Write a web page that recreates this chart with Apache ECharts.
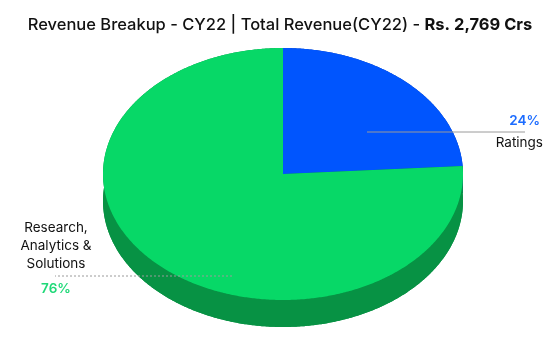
<!DOCTYPE html>
<html><head><meta charset="utf-8">
<script src="https://cdn.jsdelivr.net/npm/echarts@6/dist/echarts.min.js"></script>
<style>html,body{margin:0;padding:0;background:#fff}#c{width:560px;height:346px}</style>
</head><body><div id="c"></div>
<script>
const titleMain = 'Revenue Breakup - CY22 | Total Revenue(CY22) - ';
const titleBold = 'Rs. 2,769 Crs';
const categories = ['Ratings', 'Research, Analytics & Solutions'];
const labelNames = ['Ratings', 'Research,\nAnalytics &\nSolutions'];
const shares = [24, 76];

const topColors = ['#0055fe', '#07d867'];
const sideColors = ['#0039b0', '#079244'];
const pctColors = ['#1c6cff', '#1fd978'];
const FONT = 'Inter, "Noto Sans", sans-serif';
const geo = { cx: 283, cy: 174, rx: 180, ry: 126, depth: 27 };

const total = shares.reduce((a, b) => a + b, 0);
function angles(i) {
  let s = 0;
  for (let k = 0; k < i; k++) s += shares[k];
  return [s / total * Math.PI * 2, (s + shares[i]) / total * Math.PI * 2];
}
function pt(t, dy) {
  return [geo.cx + geo.rx * Math.sin(t), geo.cy - geo.ry * Math.cos(t) + (dy || 0)];
}
function arc(a0, a1, dy) {
  const n = Math.max(2, Math.ceil((a1 - a0) / (Math.PI / 360)));
  const p = [];
  for (let k = 0; k <= n; k++) p.push(pt(a0 + (a1 - a0) * k / n, dy));
  return p;
}
const labelLayout = [
  { ax: 367, ay: 132, bx: 525, dash: null },
  { ax: 232, ay: 276, bx: 55, dash: [2, 2] }
];

const chart = echarts.init(document.getElementById('c'), null, { renderer: 'canvas' });
chart.setOption({
  animation: false,
  title: {
    text: '{a|' + titleMain + '}{b|' + titleBold + '}',
    left: 'center', top: 12,
    textStyle: { rich: {
      a: { fontFamily: FONT, fontSize: 16.5, fontWeight: 500, color: '#111' },
      b: { fontFamily: FONT, fontSize: 16.5, fontWeight: 700, color: '#111' }
    } }
  },
  series: [
    {
      type: 'custom', coordinateSystem: 'none', z: 1, silent: true,
      data: shares.map((v, i) => [i, v]),
      renderItem: function (params, api) {
        const i = params.dataIndex;
        const [a0, a1] = angles(i);
        const d = geo.depth;
        const c0 = [geo.cx, geo.cy], c1 = [geo.cx, geo.cy + d];
        const topArc = arc(a0, a1, 0), botArc = arc(a0, a1, d);
        const fill = { fill: sideColors[i] };
        return {
          type: 'group', children: [
            { type: 'polygon', shape: { points: [c1].concat(botArc) }, style: fill },
            { type: 'polygon', shape: { points: topArc.concat(botArc.slice().reverse()) }, style: fill },
            { type: 'polygon', shape: { points: [c0, pt(a0), pt(a0, d), c1] }, style: fill },
            { type: 'polygon', shape: { points: [c0, pt(a1), pt(a1, d), c1] }, style: fill }
          ]
        };
      }
    },
    {
      type: 'custom', coordinateSystem: 'none', z: 2, silent: true,
      data: shares.map((v, i) => [i, v]),
      renderItem: function (params, api) {
        const i = params.dataIndex;
        const [a0, a1] = angles(i);
        const pct = Math.round(api.value(1) / total * 100) + '%';
        const L = labelLayout[i];
        const children = [
          { type: 'polygon', shape: { points: [[geo.cx, geo.cy]].concat(arc(a0, a1, 0)) }, style: { fill: topColors[i] } },
          { type: 'line', z2: 10, shape: { x1: L.ax, y1: L.ay, x2: L.bx, y2: L.ay },
            style: { stroke: '#9a9a9a', lineWidth: 1, lineDash: L.dash } }
        ];
        if (i === 0) {
          children.push({ type: 'text', z2: 10, style: { text: pct, x: 540, y: L.ay - 11, align: 'right', verticalAlign: 'middle',
            fill: pctColors[i], fontFamily: FONT, fontSize: 13.5, fontWeight: 600 } });
          children.push({ type: 'text', z2: 10, style: { text: labelNames[i], x: 543, y: L.ay + 11, align: 'right', verticalAlign: 'middle',
            fill: '#111', fontFamily: FONT, fontSize: 13.5, fontWeight: 400 } });
        } else {
          children.push({ type: 'text', z2: 10, style: { text: labelNames[i], x: 56, y: L.ay - 30, align: 'center', verticalAlign: 'middle',
            fill: '#111', fontFamily: FONT, fontSize: 13.5, fontWeight: 400, lineHeight: 18 } });
          children.push({ type: 'text', z2: 10, style: { text: pct, x: 56, y: L.ay + 13, align: 'center', verticalAlign: 'middle',
            fill: pctColors[i], fontFamily: FONT, fontSize: 13.5, fontWeight: 600 } });
        }
        return { type: 'group', children: children };
      }
    }
  ]
});
</script>
</body></html>
